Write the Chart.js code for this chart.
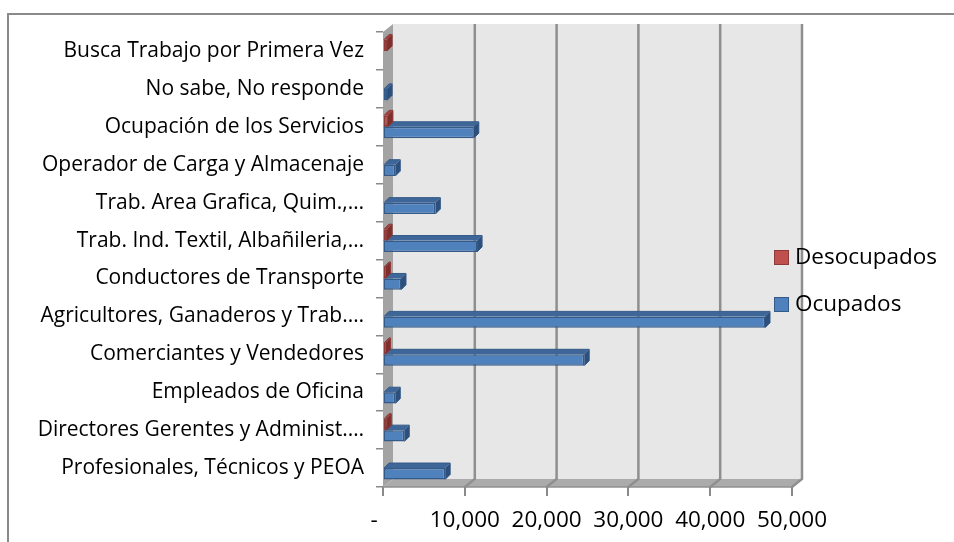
<!DOCTYPE html>
<html>
<head>
<meta charset="utf-8">
<script src="https://cdn.jsdelivr.net/npm/chart.js@4.4.0/dist/chart.umd.min.js"></script>
<style>
  body { margin: 0; background: #fff; }
  #frame { position: absolute; left: 7px; top: 13px; width: 1000px; height: 600px; border: 2px solid #8a8a8a; }
  #c { position: absolute; left: 0; top: 0; }
</style>
</head>
<body>
<div id="frame"></div>
<canvas id="c" width="954" height="542"></canvas>
<script>
// categorias de arriba hacia abajo
const categorias = [
    'Busca Trabajo por Primera Vez',
    'No sabe, No responde',
    'Ocupación de los Servicios',
    'Operador de Carga y Almacenaje',
    'Trab. Area Grafica, Quim.,…',
    'Trab. Ind. Textil, Albañileria,…',
    'Conductores de Transporte',
    'Agricultores, Ganaderos y Trab.…',
    'Comerciantes y Vendedores',
    'Empleados de Oficina',
    'Directores Gerentes y Administ.…',
    'Profesionales, Técnicos y PEOA'
];
const desocupados = [500, 0, 600, 0, 0, 500, 300, 0, 300, 0, 400, 0];
const ocupados = [0, 500, 11100, 1500, 6400, 11500, 2200, 46700, 24600, 1500, 2600, 7600];
const xTicks = [0, 10000, 20000, 30000, 40000, 50000];

const FONT = '"Open Sans"';
const CAT_SIZE = 21;
const TICK_SIZE = 22.5;
const DX = 10, DY = -8;   // profundidad de las paredes
const BX = 5, BY = -5;    // profundidad de las barras

const colores = {
    Desocupados: { front: '#c0504d', border: '#8e3a38', top: '#a13f3c', side: '#7f2e2c' },
    Ocupados: { front: '#4f81bd', border: '#345a88', top: '#3e6698', side: '#2c4f7c' }
};

function poly(ctx, pts, fill) {
    ctx.beginPath();
    ctx.moveTo(pts[0][0], pts[0][1]);
    for (let i = 1; i < pts.length; i++) ctx.lineTo(pts[i][0], pts[i][1]);
    ctx.closePath();
    ctx.fillStyle = fill;
    ctx.fill();
}

const walls = {
    id: 'walls',
    beforeDraw(chart) {
        const ctx = chart.ctx;
        const a = chart.chartArea;
        const xs = chart.scales.x;
        ctx.save();
        // pared del fondo
        poly(ctx, [[a.left + DX, a.top + DY], [a.right + DX, a.top + DY], [a.right + DX, a.bottom + DY], [a.left + DX, a.bottom + DY]], '#e7e7e7');
        // pared lateral
        poly(ctx, [[a.left, a.top], [a.left + DX, a.top + DY], [a.left + DX, a.bottom + DY], [a.left, a.bottom]], '#a3a3a3');
        // piso
        poly(ctx, [[a.left, a.bottom], [a.left + DX, a.bottom + DY], [a.right + DX, a.bottom + DY], [a.right, a.bottom]], '#ababab');
        // lineas de division
        ctx.strokeStyle = '#8f8f8f';
        ctx.lineWidth = 2.5;
        xTicks.forEach(v => {
            if (v === 0) return;
            const px = xs.getPixelForValue(v);
            ctx.beginPath();
            ctx.moveTo(px + DX, a.top + DY);
            ctx.lineTo(px + DX, a.bottom + DY);
            ctx.lineTo(px, a.bottom);
            ctx.stroke();
        });
        ctx.lineWidth = 1.5;
        ctx.beginPath();
        ctx.moveTo(a.left, a.bottom);
        ctx.lineTo(a.right, a.bottom);
        ctx.stroke();
        ctx.restore();
    }
};

const bars3d = {
    id: 'bars3d',
    afterDatasetDraw(chart, args) {
        const ctx = chart.ctx;
        const meta = args.meta;
        const c = colores[chart.data.datasets[args.index].label];
        ctx.save();
        meta.data.forEach(bar => {
            const p = bar.getProps(['x', 'y', 'base', 'height'], true);
            if (Math.abs(p.x - p.base) < 0.5) return;
            const t = p.y - p.height / 2, b = p.y + p.height / 2;
            poly(ctx, [[p.base, t], [p.base + BX, t + BY], [p.x + BX, t + BY], [p.x, t]], c.top);
            poly(ctx, [[p.x, t], [p.x + BX, t + BY], [p.x + BX, b + BY], [p.x, b]], c.side);
            ctx.strokeStyle = c.border;
            ctx.lineWidth = 1;
            ctx.beginPath();
            ctx.moveTo(p.base, t);
            ctx.lineTo(p.base + BX, t + BY);
            ctx.lineTo(p.x + BX, t + BY);
            ctx.lineTo(p.x + BX, b + BY);
            ctx.lineTo(p.x, b);
            ctx.stroke();
        });
        ctx.restore();
    }
};

const leyenda = {
    id: 'leyenda',
    afterDraw(chart) {
        const ctx = chart.ctx;
        ctx.save();
        ctx.font = TICK_SIZE + 'px ' + FONT;
        ctx.textBaseline = 'middle';
        chart.data.datasets.forEach((ds, i) => {
            const c = colores[ds.label];
            const y = 257 + i * 47;
            ctx.fillStyle = c.front;
            ctx.fillRect(774, y - 7, 15, 15);
            ctx.strokeStyle = c.border;
            ctx.lineWidth = 1;
            ctx.strokeRect(774.5, y - 6.5, 14, 14);
            ctx.fillStyle = '#000';
            ctx.fillText(ds.label, 795, y + 1);
        });
        ctx.restore();
    }
};

const ctx = document.getElementById('c').getContext('2d');
const myChart = new Chart(ctx, {
    type: 'bar',
    data: {
        labels: categorias,
        datasets: [{
            label: 'Desocupados',
            data: desocupados,
            backgroundColor: colores.Desocupados.front,
            borderColor: colores.Desocupados.border,
            borderWidth: 1.5,
            borderSkipped: false
        }, {
            label: 'Ocupados',
            data: ocupados,
            backgroundColor: colores.Ocupados.front,
            borderColor: colores.Ocupados.border,
            borderWidth: 1.5,
            borderSkipped: false
        }]
    },
    options: {
        indexAxis: 'y',
        responsive: false,
        animation: false,
        devicePixelRatio: 1,
        categoryPercentage: 0.6,
        barPercentage: 1,
        layout: { padding: { left: 0, top: 32, right: 162, bottom: 0 } },
        plugins: {
            legend: { display: false },
            tooltip: { enabled: false }
        },
        scales: {
            x: {
                min: 0,
                max: 50000,
                afterBuildTicks: s => { s.ticks = xTicks.map(v => ({ value: v })); },
                afterFit: s => { s.height = 55; },
                border: { display: false },
                grid: { drawOnChartArea: false, drawTicks: true, tickLength: 9, color: '#8a8a8a', lineWidth: 2 },
                ticks: {
                    padding: 11,
                    color: '#000',
                    font: { family: FONT, size: TICK_SIZE },
                    maxRotation: 0,
                    callback: v => v === 0 ? '-   ' : v.toLocaleString('en-US')
                }
            },
            y: {
                afterFit: s => { s.width = 383; },
                border: { display: false },
                grid: { drawOnChartArea: false, drawTicks: true, tickLength: 7, color: '#8a8a8a', lineWidth: 1.5 },
                ticks: {
                    padding: 12,
                    color: '#000',
                    font: { family: FONT, size: CAT_SIZE },
                    autoSkip: false
                }
            }
        }
    },
    plugins: [walls, bars3d, leyenda]
});
</script>
</body>
</html>
